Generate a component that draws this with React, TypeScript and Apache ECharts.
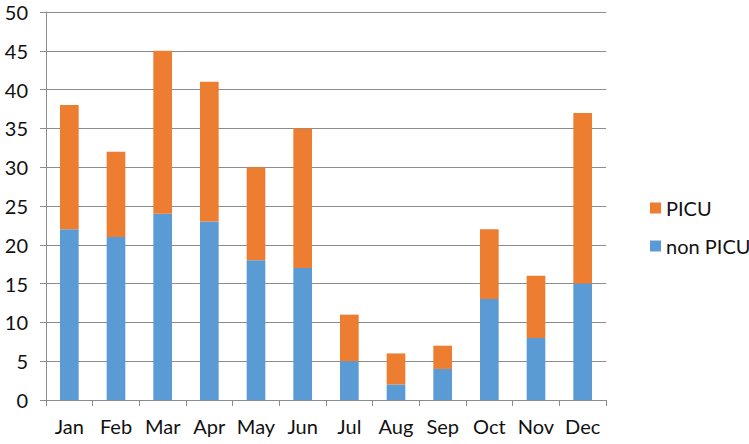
import React, { useEffect, useRef } from "react";
import * as echarts from "echarts";

const months = ["Jan", "Feb", "Mar", "Apr", "May", "Jun", "Jul", "Aug", "Sep", "Oct", "Nov", "Dec"];
const nonPicu = [22, 21, 24, 23, 18, 17, 5, 2, 4, 13, 8, 15];
const picu = [16, 11, 21, 18, 12, 18, 6, 4, 3, 9, 8, 22];

export default function App() {
  const ref = useRef<HTMLDivElement>(null);
  useEffect(() => {
    if (!ref.current) return;
    const chart = echarts.init(ref.current, null, { renderer: "svg" });
    const font = "Lato, 'Open Sans', sans-serif";
    chart.setOption({
      animation: false,
      grid: { left: 46, right: 143, top: 12, bottom: 44 },
      legend: {
        orient: "vertical",
        left: 645,
        top: 193,
        itemWidth: 11,
        itemHeight: 11,
        itemGap: 18,
        icon: "rect",
        data: ["PICU", "non PICU"],
        textStyle: { fontSize: 20, color: "#111", fontFamily: font, padding: [0, 0, 0, 0] },
      },
      xAxis: {
        type: "category",
        data: months,
        axisLine: { lineStyle: { color: "#8c8c8c", width: 1 } },
        axisTick: { show: true, length: 6, lineStyle: { color: "#8c8c8c" } },
        axisLabel: { fontSize: 20, color: "#111", fontFamily: font, margin: 16, interval: 0, hideOverlap: false },
      },
      yAxis: {
        type: "value",
        min: 0,
        max: 50,
        interval: 5,
        axisLine: { show: true, lineStyle: { color: "#8c8c8c", width: 1 } },
        axisTick: { show: true, length: 6, lineStyle: { color: "#8c8c8c" } },
        axisLabel: { fontSize: 20, color: "#111", fontFamily: font, margin: 18 },
        splitLine: { lineStyle: { color: "#8c8c8c", width: 1 } },
      },
      series: [
        {
          name: "non PICU",
          type: "bar",
          stack: "total",
          data: nonPicu,
          barWidth: "40%",
          itemStyle: { color: "#5B9BD5" },
        },
        {
          name: "PICU",
          type: "bar",
          stack: "total",
          data: picu,
          barWidth: "40%",
          itemStyle: { color: "#ED7D31" },
        },
      ],
    });
    return () => chart.dispose();
  }, []);
  return <div ref={ref} style={{ width: 749, height: 444, position: "absolute", left: 0, top: 0 }} />;
}
